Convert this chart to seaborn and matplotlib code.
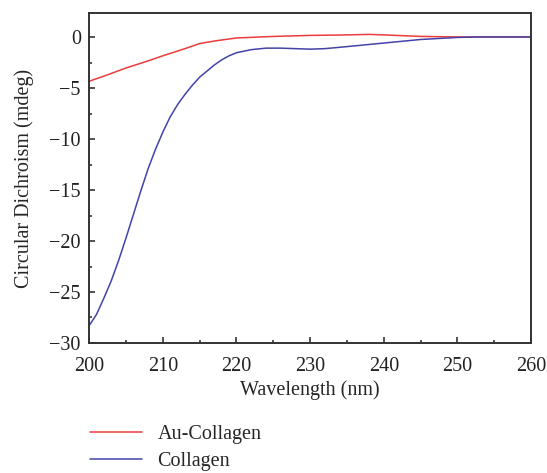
import numpy as np
import pandas as pd
import seaborn as sns
import matplotlib.pyplot as plt
from matplotlib.ticker import MultipleLocator

# 讀取數據
wl_au = [200, 202, 205, 208, 210, 213, 215, 217, 220, 225, 230, 235, 238, 240, 245, 250, 255, 260]
cd_au = [-4.3, -3.8, -3.0, -2.3, -1.8, -1.1, -0.6, -0.35, -0.05, 0.1, 0.2, 0.25, 0.3, 0.25, 0.1, 0.05, 0.05, 0.05]

wl_col = [200, 201, 202, 203, 204, 205, 206, 207, 208, 209, 210, 211, 212, 213, 214, 215, 216, 217,
          218, 219, 220, 222, 224, 226, 228, 230, 232, 235, 240, 245, 250, 253, 260]
cd_col = [-28.3, -27.2, -25.6, -23.9, -21.9, -19.7, -17.4, -15.1, -12.9, -11.0, -9.3, -7.8, -6.6,
          -5.6, -4.7, -3.9, -3.3, -2.7, -2.2, -1.8, -1.5, -1.2, -1.05, -1.05, -1.1, -1.15, -1.1,
          -0.9, -0.55, -0.2, 0.0, 0.05, 0.05]

labels = ['Au-Collagen', 'Collagen']
colors = ['#ee3b3b', '#4343a9']

data = pd.concat([
    pd.DataFrame({'Wavelength': wl_au, 'CD': cd_au, 'Sample': labels[0]}),
    pd.DataFrame({'Wavelength': wl_col, 'CD': cd_col, 'Sample': labels[1]}),
])

sns.set_style('ticks')
plt.rcParams['font.family'] = ['Liberation Serif', 'DejaVu Serif']
plt.rcParams['xtick.direction'] = 'in'
plt.rcParams['ytick.direction'] = 'in'

fs = 14.5
fig = plt.figure(figsize=(5.47, 4.73), dpi=100)
ax = fig.add_axes([0.163, 0.275, 0.808, 0.6975])
sns.lineplot(data=data, x='Wavelength', y='CD', hue='Sample', palette=colors,
             linewidth=1.1, ax=ax, legend=False)

ax.set_xlim(200, 260)
ax.set_ylim(-30, 2.4)
ax.xaxis.set_major_locator(MultipleLocator(10))
ax.xaxis.set_minor_locator(MultipleLocator(5))
ax.yaxis.set_minor_locator(MultipleLocator(2.5))
ax.set_yticks(range(-30, 1, 5))
ax.set_yticklabels(['\u221230', '\u221225', '\u221220', '\u221215', '\u221210', '\u22125', '0'])
ax.tick_params(which='major', length=4, width=1.1, labelsize=fs, colors='#222222')
ax.tick_params(axis='x', which='major', pad=10)
ax.tick_params(axis='y', which='major', pad=6)
ax.tick_params(which='minor', length=2.5, width=1.1)
for s in ax.spines.values():
    s.set_linewidth(1.4)
    s.set_color('#333333')

ax.set_xlabel('Wavelength (nm)', fontsize=fs, labelpad=3)
ax.set_ylabel('Circular Dichroism (mdeg)', fontsize=fs, labelpad=11)

handles = [plt.Line2D([], [], color=c, linewidth=1.1) for c in colors]
fig.legend(handles, labels, loc='upper left', bbox_to_anchor=(0.1645, 0.102),
           frameon=False, fontsize=fs, handlelength=2.6, handletextpad=0.75,
           labelspacing=0.4, borderpad=0, borderaxespad=0)

plt.savefig('out.png', dpi=100)
